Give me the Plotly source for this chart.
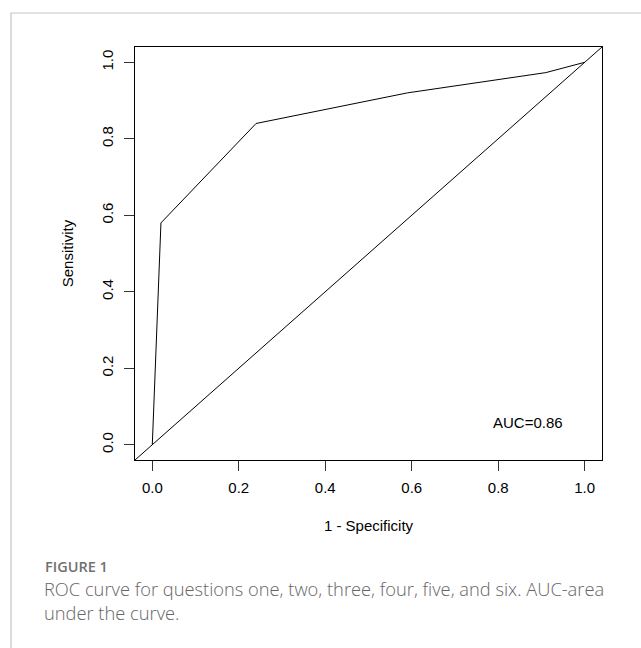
import plotly.graph_objects as go

# ROC curve points (1 - specificity, sensitivity)
fpr = [0.0, 0.02, 0.24, 0.59, 0.91, 1.0]
tpr = [0.0, 0.58, 0.84, 0.92, 0.973, 1.0]
tick_vals = [0.0, 0.2, 0.4, 0.6, 0.8, 1.0]
tick_text = ["0.0", "0.2", "0.4", "0.6", "0.8", "1.0"]
auc_label = "AUC=0.86"
auc_pos = (0.87, 0.057)
x_title = "1 - Specificity"
y_title = "Sensitivity"
fig_label = "FIGURE 1"
caption_lines = [
    "ROC curve for questions one, two, three, four, five, and six. AUC-area",
    "under the curve.",
]

W, H = 641, 648
L, R, T, B = 135, 39, 47, 188
plot_w = W - L - R
plot_h = H - T - B


def px_to_paper_x(px):
    return (px - L) / plot_w


def px_to_paper_y(py):
    return (H - B - py) / plot_h


font_main = "Liberation Sans, Arial, Helvetica, sans-serif"

fig = go.Figure()
fig.add_trace(go.Scatter(
    x=fpr, y=tpr, mode="lines",
    line=dict(color="black", width=1),
    hoverinfo="x+y", showlegend=False,
))

# abline(0, 1) across the plotting region
fig.add_shape(type="line", xref="x domain", yref="y domain",
              x0=0, y0=0, x1=1, y1=1,
              line=dict(color="black", width=1))

# Outer light frame
fig.add_shape(type="rect", xref="paper", yref="paper",
              x0=px_to_paper_x(11), y0=px_to_paper_y(H + 20),
              x1=px_to_paper_x(W + 20), y1=px_to_paper_y(13),
              line=dict(color="#c4c4c4", width=1.2), layer="below")

axis_common = dict(
    range=[-0.04, 1.04],
    tickvals=tick_vals, ticktext=tick_text,
    ticks="outside", ticklen=10, tickwidth=1, tickcolor="#333333",
    showline=True, mirror=True, linecolor="black", linewidth=1,
    showgrid=False, zeroline=False,
    tickfont=dict(family=font_main, size=15, color="black"),
)

fig.update_xaxes(**axis_common, ticklabelstandoff=4,
                 title=dict(text=x_title, font=dict(family=font_main, size=15, color="black"),
                            standoff=25))
fig.update_yaxes(**axis_common, tickangle=-90, ticklabelstandoff=5,
                 title=dict(text=y_title, font=dict(family=font_main, size=15, color="black"),
                            standoff=21))

fig.add_annotation(x=auc_pos[0], y=auc_pos[1], xref="x", yref="y",
                   text=auc_label, showarrow=False,
                   font=dict(family=font_main, size=15, color="black"))

fig.add_annotation(x=px_to_paper_x(44), y=px_to_paper_y(566), xref="paper", yref="paper",
                   xanchor="left", yanchor="middle", text=fig_label, showarrow=False,
                   borderpad=0,
                   font=dict(family="Open Sans, sans-serif", size=14.5, color="#707070", weight=600))
fig.add_annotation(x=px_to_paper_x(43), y=px_to_paper_y(600.5),
                   xref="paper", yref="paper", align="left", borderpad=0,
                   xanchor="left", yanchor="middle", text="<br>".join(caption_lines),
                   showarrow=False,
                   font=dict(family="Open Sans, sans-serif", size=18.3, color="#666666", weight=300))

fig.update_layout(
    width=W, height=H,
    margin=dict(l=L, r=R, t=T, b=B),
    paper_bgcolor="white", plot_bgcolor="white",
    showlegend=False,
)

fig.write_html("out.html",
               config={"displayModeBar": False},
               post_script="document.body.style.margin='0';document.body.style.overflow='hidden';")
